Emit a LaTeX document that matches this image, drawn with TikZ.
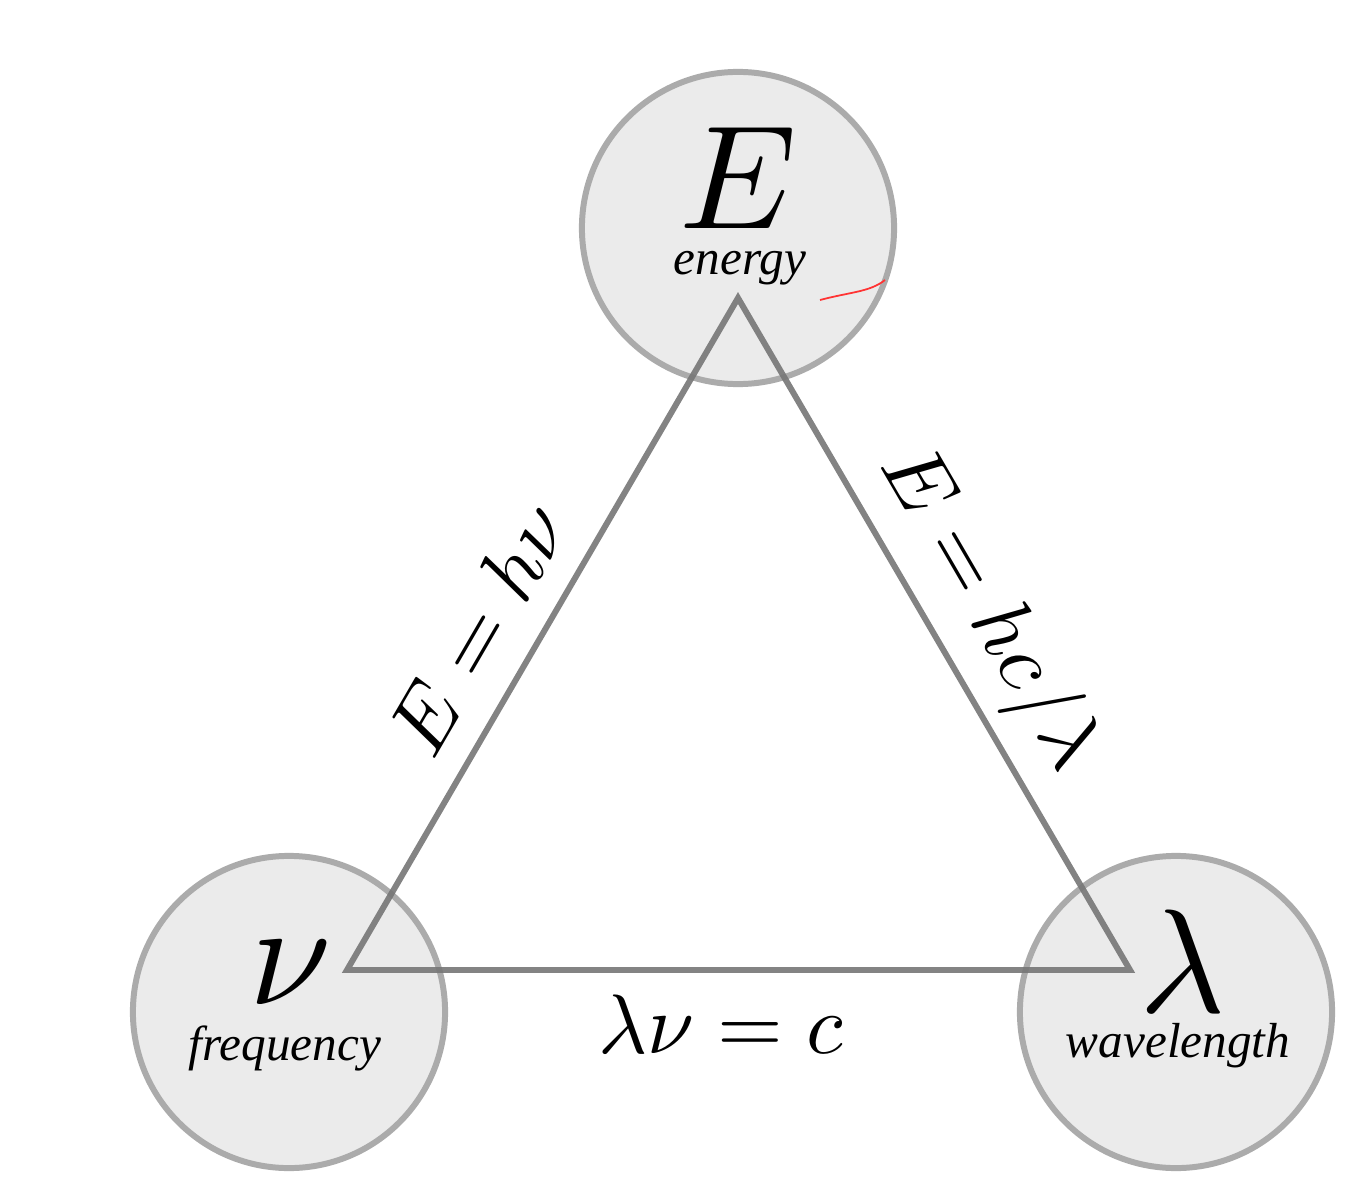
\documentclass[tikz,border=0pt]{standalone}
\usepackage{fontspec}
\usepackage{unicode-math}
\setmainfont{Liberation Serif}
\setmathfont{Latin Modern Math}
\usetikzlibrary{positioning}
\definecolor{ringgray}{HTML}{ABABAB}
\definecolor{ringfill}{HTML}{EBEBEB}
\definecolor{edgegray}{HTML}{767676}
\tikzset{
  quantity/.style={circle, draw=ringgray, fill=ringfill, line width=1.7pt, minimum size=3.12cm, inner sep=0pt},
  symb/.style={font=\fontsize{42}{46}\selectfont},
  word/.style={font=\fontsize{14}{16}\selectfont\itshape},
  relation/.style={font=\fontsize{24}{28}\selectfont}
}
\begin{document}
\begin{tikzpicture}[x=0.01cm, y=-0.01cm]
	\useasboundingbox (0,0) rectangle (1369,1200);
	\node[quantity] (energy) at (738,228) {};
	\node[quantity] (freq) at (289,1012) {};
	\node[quantity] (wave) at (1176,1012) {};
	\coordinate (top) at (738,298);
	\coordinate (left) at (347,970);
	\coordinate (right) at (1130,970);
	\draw [edgegray, line width=1.7pt, opacity=0.9] (top) -- (left) -- (right) -- cycle;
	\node[symb] (Esym) at (738,178) {$E$};
	\node[word] (Eword) at (740,268) {energy};
	\node[symb] (nusym) at (290,972) {$ν$};
	\node[word] (nuword) at (285,1048) {frequency};
	\node[symb] (lsym) at (1183,962) {$λ$};
	\node[word] (lword) at (1178,1046) {wavelength};
	\node[relation, rotate=59.8] (lefteq) at (478,628) {$E = hν$};
	\node[relation, rotate=-59.8] (righteq) at (988,610) {$E = hc/λ$};
	\node[relation] (baseeq) at (722,1025) {$λν = c$};
	\draw [red!80, line width=0.5pt] (820,300) .. controls (850,292) and (870,292) .. (885,280);
\end{tikzpicture}
\end{document}
